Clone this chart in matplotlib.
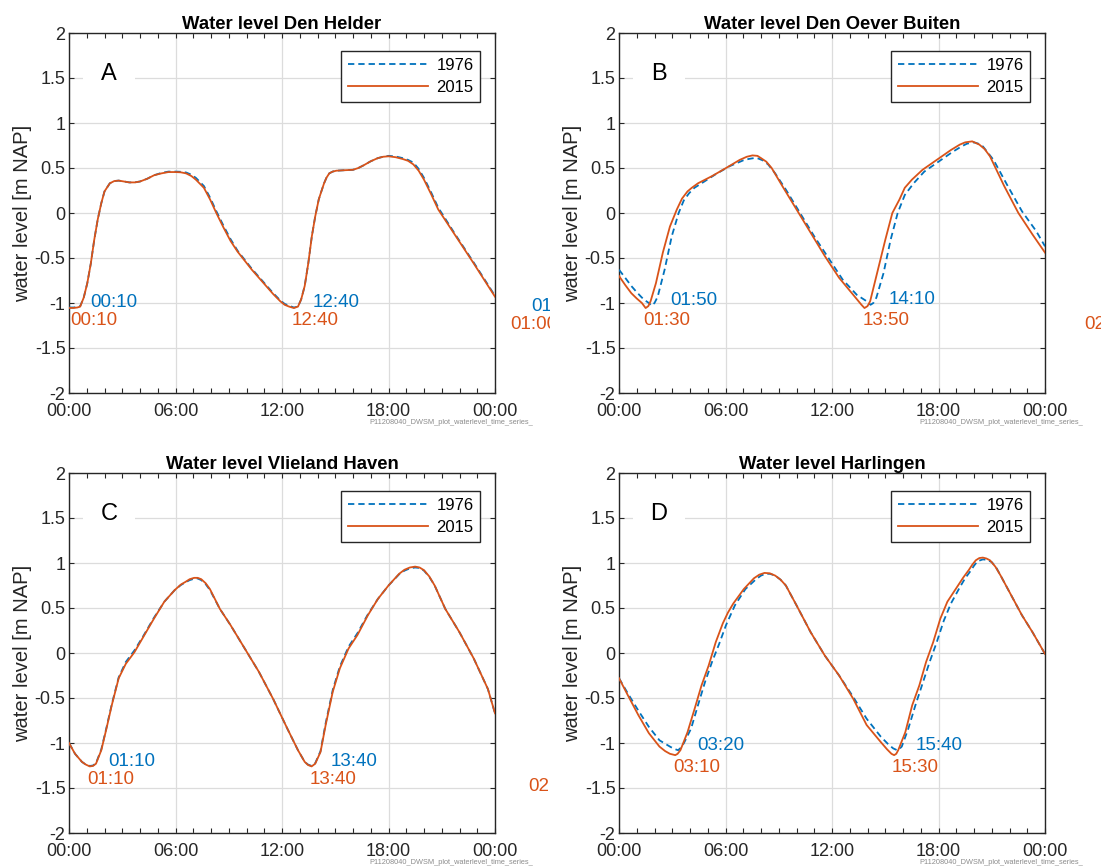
import matplotlib
matplotlib.use("Agg")
import matplotlib.pyplot as plt
from matplotlib.ticker import MultipleLocator
from matplotlib.transforms import Bbox, TransformedBbox

plt.rcParams['font.family'] = ['Liberation Sans', 'DejaVu Sans']

# Axis labels and ticks
xtick_hours = [0, 6, 12, 18, 24]
xtick_labels = ["00:00", "06:00", "12:00", "18:00", "00:00"]
ytick_values = [-2, -1.5, -1, -0.5, 0, 0.5, 1, 1.5, 2]
ytick_labels = ["-2", "-1.5", "-1", "-0.5", "0", "0.5", "1", "1.5", "2"]
ylabel = "water level [m NAP]"
series_names = ["1976", "2015"]
watermark = "P11208040_DWSM_plot_waterlevel_time_series_"

# Station titles and panel letters
titles = ["Water level Den Helder", "Water level Den Oever Buiten",
          "Water level Vlieland Haven", "Water level Harlingen"]
letters = ["A", "B", "C", "D"]

# Den Helder (hours, m NAP)
time_a = [0.0, 0.25, 0.47, 0.63, 0.83, 1.03, 1.23, 1.42, 1.62, 1.82,
          2.0, 2.3, 2.55, 2.8, 3.1, 3.4, 3.7, 4.0, 4.4, 4.8,
          5.2, 5.6, 6.0, 6.3, 6.6, 6.9, 7.15, 7.35, 7.6, 7.95,
          8.3, 8.7, 9.1, 9.5, 10.3, 11.1, 11.5, 11.9, 12.15, 12.4,
          12.67, 12.9, 13.08, 13.28, 13.48, 13.68, 13.87, 14.07, 14.2, 14.37,
          14.5, 14.66, 14.85, 15.06, 15.5, 16.0, 16.3, 16.6, 17.0, 17.4,
          17.7, 18.0, 18.4, 18.8, 19.1, 19.4, 19.7, 20.0, 20.4, 20.8,
          21.8, 22.8, 24.0]
level_a_2015 = [-1.055, -1.055, -1.05, -1.04, -0.94, -0.78, -0.56, -0.30, -0.07, 0.11,
                0.24, 0.33, 0.355, 0.36, 0.35, 0.34, 0.34, 0.35, 0.38, 0.42,
                0.44, 0.455, 0.455, 0.452, 0.44, 0.41, 0.37, 0.33, 0.28, 0.15,
                0.0, -0.16, -0.31, -0.43, -0.63, -0.81, -0.90, -0.98, -1.02, -1.04,
                -1.056, -1.04, -0.96, -0.81, -0.56, -0.26, -0.04, 0.15, 0.23, 0.33,
                0.39, 0.44, 0.46, 0.47, 0.475, 0.48, 0.50, 0.53, 0.575, 0.61,
                0.625, 0.63, 0.62, 0.6, 0.58, 0.54, 0.47, 0.37, 0.21, 0.04,
                -0.26, -0.56, -0.93]
level_a_1976 = [-1.05, -1.05, -1.045, -1.035, -0.94, -0.78, -0.56, -0.30, -0.07, 0.11,
                0.24, 0.33, 0.355, 0.36, 0.35, 0.34, 0.34, 0.35, 0.38, 0.42,
                0.445, 0.46, 0.46, 0.458, 0.45, 0.425, 0.39, 0.35, 0.30, 0.17,
                0.02, -0.14, -0.29, -0.42, -0.62, -0.80, -0.89, -0.97, -1.01, -1.03,
                -1.05, -1.04, -0.96, -0.81, -0.56, -0.26, -0.04, 0.15, 0.23, 0.33,
                0.39, 0.44, 0.46, 0.47, 0.475, 0.48, 0.50, 0.53, 0.575, 0.61,
                0.625, 0.635, 0.628, 0.61, 0.59, 0.56, 0.49, 0.39, 0.23, 0.06,
                -0.25, -0.55, -0.92]

# Den Oever Buiten
time_b_2015 = [0.0, 0.35, 0.69, 1.0, 1.29, 1.5, 1.65, 1.78, 2.08, 2.47,
               2.87, 3.26, 3.55, 3.86, 4.1, 4.45, 5.24, 6.03, 6.8, 7.2,
               7.52, 7.8, 8.0, 8.3, 8.6, 9.2, 10.0, 10.8, 11.6, 12.4,
               13.2, 13.66, 13.83, 14.0, 14.15, 14.5, 15.0, 15.4, 15.8, 16.1,
               16.5, 17.1, 17.9, 18.7, 19.2, 19.5, 19.9, 20.3, 20.6, 20.9,
               21.7, 22.5, 23.3, 24.0]
level_b_2015 = [-0.70, -0.80, -0.89, -0.95, -1.0, -1.056, -1.035, -0.98, -0.78, -0.44,
                -0.15, 0.04, 0.16, 0.24, 0.28, 0.33, 0.41, 0.5, 0.59, 0.625,
                0.64, 0.635, 0.61, 0.57, 0.5, 0.30, 0.04, -0.22, -0.48, -0.72,
                -0.91, -1.02, -1.056, -1.035, -0.98, -0.70, -0.30, 0.0, 0.15, 0.28,
                0.37, 0.48, 0.59, 0.70, 0.76, 0.785, 0.796, 0.76, 0.71, 0.63,
                0.30, 0.0, -0.24, -0.44]
time_b_1976 = [0.0, 0.35, 0.69, 1.0, 1.29, 1.5, 1.68, 1.83, 2.0, 2.18,
               2.57, 2.97, 3.36, 3.65, 3.95, 4.25, 4.65, 5.44, 6.23, 7.0,
               7.3, 7.6, 7.85, 8.1, 8.4, 8.8, 9.4, 10.2, 11.0, 11.8,
               12.6, 13.4, 13.95, 14.17, 14.33, 14.5, 14.9, 15.3, 15.7, 16.1,
               16.6, 17.2, 18.0, 18.8, 19.3, 19.6, 20.0, 20.25, 20.5, 21.1,
               21.9, 22.7, 23.5, 24.0]
level_b_1976 = [-0.63, -0.72, -0.81, -0.88, -0.94, -0.975, -1.0, -1.03, -1.0, -0.93,
                -0.63, -0.26, 0.0, 0.14, 0.22, 0.28, 0.33, 0.43, 0.52, 0.585,
                0.60, 0.61, 0.605, 0.585, 0.54, 0.44, 0.26, 0.0, -0.26, -0.5,
                -0.74, -0.91, -0.98, -1.02, -1.0, -0.94, -0.67, -0.30, 0.0, 0.2,
                0.33, 0.46, 0.57, 0.68, 0.74, 0.77, 0.785, 0.77, 0.74, 0.59,
                0.3, 0.02, -0.2, -0.37]

# Vlieland Haven
time_c = [0.0, 0.34, 0.73, 0.95, 1.17, 1.35, 1.52, 1.82, 2.11, 2.41,
          2.8, 3.2, 3.69, 4.19, 4.78, 5.37, 5.96, 6.3, 6.56, 6.8,
          7.05, 7.25, 7.45, 7.7, 7.94, 8.5, 9.1, 9.9, 10.7, 11.5,
          12.3, 12.9, 13.28, 13.47, 13.67, 13.87, 14.17, 14.46, 14.86, 15.26,
          15.75, 16.25, 16.84, 17.4, 18.0, 18.6, 18.9, 19.2, 19.5, 19.75,
          20.0, 20.3, 20.6, 21.2, 22.0, 22.8, 23.6, 24.0]
level_c_2015 = [-1.0, -1.12, -1.21, -1.24, -1.26, -1.255, -1.23, -1.08, -0.84, -0.58,
                -0.28, -0.12, 0.01, 0.18, 0.38, 0.57, 0.70, 0.76, 0.79, 0.82,
                0.835, 0.835, 0.82, 0.775, 0.71, 0.49, 0.31, 0.05, -0.21, -0.51,
                -0.84, -1.08, -1.21, -1.245, -1.26, -1.23, -1.10, -0.80, -0.43, -0.17,
                0.05, 0.20, 0.42, 0.60, 0.75, 0.88, 0.925, 0.95, 0.96, 0.95,
                0.92, 0.85, 0.75, 0.49, 0.23, -0.06, -0.40, -0.67]
level_c_1976 = [-1.0, -1.12, -1.21, -1.24, -1.255, -1.25, -1.225, -1.07, -0.83, -0.57,
                -0.27, -0.10, 0.03, 0.19, 0.39, 0.57, 0.70, 0.755, 0.785, 0.81,
                0.825, 0.828, 0.81, 0.765, 0.70, 0.49, 0.31, 0.05, -0.21, -0.51,
                -0.84, -1.08, -1.21, -1.24, -1.255, -1.225, -1.09, -0.78, -0.41, -0.15,
                0.07, 0.22, 0.43, 0.60, 0.75, 0.875, 0.915, 0.94, 0.95, 0.945,
                0.915, 0.845, 0.75, 0.49, 0.23, -0.06, -0.40, -0.67]

# Harlingen
time_d_2015 = [0.0, 0.5, 1.09, 1.68, 2.28, 2.6, 2.87, 3.17, 3.3, 3.46,
               3.86, 4.26, 4.65, 5.05, 5.45, 5.85, 6.14, 6.44, 7.03, 7.6,
               7.9, 8.2, 8.5, 8.8, 9.1, 9.4, 10.0, 10.8, 11.6, 12.4,
               13.2, 13.95, 14.75, 15.1, 15.35, 15.5, 15.62, 15.73, 16.13, 16.52,
               16.92, 17.3, 17.7, 18.1, 18.5, 19.1, 19.4, 19.7, 19.9, 20.1,
               20.3, 20.5, 20.7, 20.9, 21.2, 21.5, 22.1, 22.7, 23.3, 24.0]
level_d_2015 = [-0.28, -0.47, -0.69, -0.89, -1.04, -1.09, -1.12, -1.135, -1.12, -1.08,
                -0.88, -0.62, -0.36, -0.14, 0.12, 0.33, 0.45, 0.55, 0.71, 0.83,
                0.87, 0.89, 0.885, 0.86, 0.815, 0.75, 0.53, 0.23, -0.03, -0.25,
                -0.51, -0.80, -0.99, -1.07, -1.12, -1.135, -1.12, -1.08, -0.88, -0.58,
                -0.36, -0.10, 0.12, 0.38, 0.57, 0.75, 0.84, 0.92, 0.98, 1.03,
                1.055, 1.06, 1.05, 1.03, 0.96, 0.86, 0.64, 0.42, 0.23, -0.01]
time_d_1976 = [0.0, 0.5, 1.09, 1.68, 2.28, 2.87, 3.1, 3.33, 3.5, 3.66,
               4.06, 4.45, 4.85, 5.24, 5.64, 6.03, 6.53, 7.12, 7.72, 8.0,
               8.25, 8.5, 8.8, 9.1, 9.4, 10.0, 10.8, 11.6, 12.4, 13.2,
               13.95, 14.75, 15.2, 15.45, 15.67, 15.8, 15.93, 16.3, 16.7, 17.1,
               17.5, 17.9, 18.3, 18.7, 19.2, 19.5, 19.8, 20.0, 20.2, 20.5,
               20.75, 21.0, 21.25, 21.5, 22.1, 22.7, 23.3, 24.0]
level_d_1976 = [-0.28, -0.45, -0.64, -0.82, -0.97, -1.04, -1.065, -1.08, -1.05, -1.0,
                -0.84, -0.58, -0.32, -0.10, 0.10, 0.31, 0.53, 0.71, 0.82, 0.86,
                0.88, 0.88, 0.86, 0.815, 0.75, 0.53, 0.23, -0.03, -0.25, -0.49,
                -0.73, -0.93, -1.02, -1.06, -1.08, -1.065, -1.04, -0.84, -0.58, -0.34,
                -0.10, 0.12, 0.36, 0.55, 0.73, 0.83, 0.91, 0.97, 1.02, 1.04,
                1.035, 1.01, 0.95, 0.86, 0.64, 0.42, 0.23, -0.01]

# Low water moments: minutes after 00:00 and level, per panel
low_min_1976 = [[10, 760, 1500], [110, 850], [70, 820], [200, 940]]
low_lvl_1976 = [[-1.05, -1.05, -1.095], [-1.03, -1.02], [-1.255, -1.255], [-1.08, -1.08]]
low_min_2015 = [[10, 760, 1500], [90, 830, 1580], [70, 820, 1560], [190, 930]]
low_lvl_2015 = [[-1.056, -1.056, -1.10], [-1.056, -1.056, -1.10], [-1.26, -1.26, -1.34], [-1.135, -1.135]]

BLUE = "#0072BD"
ORANGE = "#D95319"
DARK = "#262626"

panels = [
    (time_a, level_a_1976, time_a, level_a_2015),
    (time_b_1976, level_b_1976, time_b_2015, level_b_2015),
    (time_c, level_c_1976, time_c, level_c_2015),
    (time_d_1976, level_d_1976, time_d_2015, level_d_2015),
]

W, H = 1101, 868
fig = plt.figure(figsize=(W / 100, H / 100), dpi=100)

# pixel positions of the axes (left, top) and the clip region of each panel
ax_origin = [(69, 33), (619, 33), (69, 473), (619, 473)]
clip_x = [(0, 550), (550, W), (0, 550), (550, W)]
ax_w, ax_h = 426, 360


def hhmm(minutes):
    return "%02d:%02d" % ((minutes // 60) % 24, minutes % 60)


for i in range(4):
    x0, y0 = ax_origin[i]
    ax = fig.add_axes([x0 / W, 1 - (y0 + ax_h) / H, ax_w / W, ax_h / H])
    t76, v76, t15, v15 = panels[i]

    ax.plot(t76, v76, color=BLUE, lw=1.3, dashes=(3.5, 2.2), label=series_names[0], zorder=3)
    ax.plot(t15, v15, color=ORANGE, lw=1.3, label=series_names[1], zorder=4)

    ax.set_xlim(0, 24)
    ax.set_ylim(-2, 2)
    ax.set_xticks(xtick_hours)
    ax.set_xticklabels(xtick_labels)
    ax.xaxis.set_minor_locator(MultipleLocator(1))
    ax.set_yticks(ytick_values)
    ax.set_yticklabels(ytick_labels)
    ax.tick_params(which="both", direction="in", top=True, right=True,
                   length=3.5, width=0.8, color=DARK, labelcolor=DARK, labelsize=13)
    ax.tick_params(axis="y", pad=2.5)
    ax.tick_params(axis="x", pad=7)
    ax.grid(True, which="major", color="#dcdcdc", lw=0.9)
    ax.set_axisbelow(True)
    for sp in ax.spines.values():
        sp.set_color(DARK)
        sp.set_linewidth(1.0)

    ax.set_title(titles[i], fontsize=13.3, fontweight="bold", pad=3)
    ax.set_ylabel(ylabel, fontsize=14.5, color=DARK, labelpad=2)

    leg = ax.legend(loc="upper right", bbox_to_anchor=(0.965, 0.95), borderaxespad=0,
                    fontsize=12, handlelength=4.8, handletextpad=0.5, borderpad=0.4,
                    labelspacing=0.45, fancybox=False, edgecolor=DARK, framealpha=1)
    leg.get_frame().set_linewidth(1.0)

    ax.text(0.094, 0.887, letters[i], transform=ax.transAxes, fontsize=17,
            ha="center", va="center", zorder=5,
            bbox=dict(facecolor="white", edgecolor="none", pad=13))

    ax.text(1.09, -0.083, watermark, transform=ax.transAxes, fontsize=5.3,
            color="#8c8c8c", ha="right", va="center")

    # low water times, clipped to the panel's own part of the figure
    cx0, cx1 = clip_x[i]
    clip_box = TransformedBbox(Bbox.from_extents(cx0 / W, 0, cx1 / W, 1), fig.transFigure)
    labels = []
    for m, lv in zip(low_min_1976[i], low_lvl_1976[i]):
        labels.append(ax.text(m / 60 + 1.05, lv + 0.055, hhmm(m), color=BLUE,
                              fontsize=13.5, ha="left", va="center"))
    for m, lv in zip(low_min_2015[i], low_lvl_2015[i]):
        labels.append(ax.text(m / 60 - 0.12, lv - 0.14, hhmm(m), color=ORANGE,
                              fontsize=13.5, ha="left", va="center"))
    for t in labels:
        t.set_clip_path(None)
        t.set_clip_box(clip_box)
        t.set_clip_on(True)

fig.savefig("out.png", dpi=100)
